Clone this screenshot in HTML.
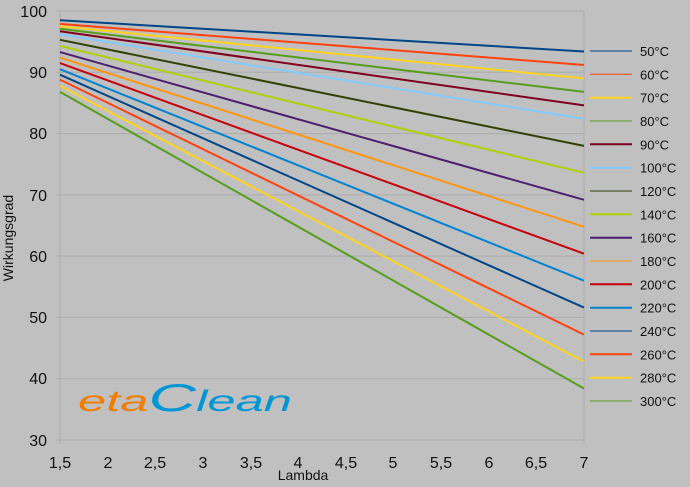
<!DOCTYPE html><html><head><style>body{margin:0;background:#c0c0c0}svg{display:block;font-family:"Liberation Sans",sans-serif}</style></head><body>
<svg width="690" height="487" viewBox="0 0 690 487">
<rect width="690" height="487" fill="#c0c0c0"/>
<g stroke="#acacac" stroke-width="1">
<line x1="56" y1="11" x2="584" y2="11"/><line x1="56" y1="72.3" x2="584" y2="72.3"/><line x1="56" y1="133.6" x2="584" y2="133.6"/><line x1="56" y1="194.9" x2="584" y2="194.9"/><line x1="56" y1="256.1" x2="584" y2="256.1"/><line x1="56" y1="317.4" x2="584" y2="317.4"/><line x1="56" y1="378.7" x2="584" y2="378.7"/><line x1="56" y1="440" x2="584" y2="440"/>
<line x1="60" y1="11" x2="60" y2="444"/><line x1="584" y1="11" x2="584" y2="444"/>
</g>
<g font-size="16" fill="#111" text-anchor="end">
<text x="47" y="17">100</text><text x="47" y="78">90</text><text x="47" y="139">80</text><text x="47" y="201">70</text><text x="47" y="262">60</text><text x="47" y="323">50</text><text x="47" y="384">40</text><text x="47" y="446">30</text>
</g>
<g font-size="16" fill="#111" text-anchor="middle">
<text x="60" y="468">1,5</text><text x="108" y="468">2</text><text x="155" y="468">2,5</text><text x="203" y="468">3</text><text x="251" y="468">3,5</text><text x="298" y="468">4</text><text x="346" y="468">4,5</text><text x="393" y="468">5</text><text x="441" y="468">5,5</text><text x="489" y="468">6</text><text x="536" y="468">6,5</text><text x="584" y="468">7</text>
</g>
<text x="303" y="480" font-size="14" text-anchor="middle" fill="#111">Lambda</text>
<text transform="translate(13,238) rotate(-90)" font-size="14" text-anchor="middle" fill="#111">Wirkungsgrad</text>
<text x="78" y="411" font-size="30" font-style="italic" fill="#f07d00" textLength="214" lengthAdjust="spacingAndGlyphs">eta<tspan fill="#0096d6" font-size="39">C</tspan><tspan fill="#0096d6">lean</tspan></text>
<g stroke-width="2" fill="none">
<line x1="60" y1="20.2" x2="584" y2="51.5" stroke="#004586"/>
<line x1="60" y1="23.9" x2="584" y2="65" stroke="#ff420e"/>
<line x1="60" y1="26.3" x2="584" y2="78.4" stroke="#ffd320"/>
<line x1="60" y1="28.8" x2="584" y2="91.9" stroke="#579d1c"/>
<line x1="60" y1="31.2" x2="584" y2="105.4" stroke="#7e0021"/>
<line x1="60" y1="34.3" x2="584" y2="118.9" stroke="#83caff"/>
<line x1="60" y1="39.8" x2="584" y2="145.9" stroke="#314004"/>
<line x1="60" y1="45.9" x2="584" y2="172.8" stroke="#aecf00"/>
<line x1="60" y1="52.1" x2="584" y2="199.8" stroke="#4b1f6f"/>
<line x1="60" y1="57.6" x2="584" y2="226.8" stroke="#ff950e"/>
<line x1="60" y1="63.1" x2="584" y2="253.7" stroke="#c5000b"/>
<line x1="60" y1="69.2" x2="584" y2="280.7" stroke="#0084d1"/>
<line x1="60" y1="74.7" x2="584" y2="307.6" stroke="#004586"/>
<line x1="60" y1="79.6" x2="584" y2="334.6" stroke="#ff420e"/>
<line x1="60" y1="85.8" x2="584" y2="361.6" stroke="#ffd320"/>
<line x1="60" y1="91.9" x2="584" y2="388.5" stroke="#579d1c"/>
</g>
<g font-size="13" fill="#111">
<line x1="590" x2="632" y1="51" y2="51" stroke="#004586"/><text x="640" y="56">50°C</text>
<line x1="590" x2="632" y1="74.3" y2="74.3" stroke="#ff420e"/><text x="640" y="79.3">60°C</text>
<line x1="590" x2="632" y1="97.7" y2="97.7" stroke="#ffd320" stroke-width="2"/><text x="640" y="102.7">70°C</text>
<line x1="590" x2="632" y1="121" y2="121" stroke="#579d1c"/><text x="640" y="126">80°C</text>
<line x1="590" x2="632" y1="144.3" y2="144.3" stroke="#7e0021" stroke-width="2"/><text x="640" y="149.3">90°C</text>
<line x1="590" x2="632" y1="167.7" y2="167.7" stroke="#83caff" stroke-width="2"/><text x="640" y="172.7">100°C</text>
<line x1="590" x2="632" y1="191" y2="191" stroke="#314004"/><text x="640" y="196">120°C</text>
<line x1="590" x2="632" y1="214.3" y2="214.3" stroke="#aecf00" stroke-width="2"/><text x="640" y="219.3">140°C</text>
<line x1="590" x2="632" y1="237.7" y2="237.7" stroke="#4b1f6f" stroke-width="2"/><text x="640" y="242.7">160°C</text>
<line x1="590" x2="632" y1="261" y2="261" stroke="#ff950e"/><text x="640" y="266">180°C</text>
<line x1="590" x2="632" y1="284.3" y2="284.3" stroke="#c5000b" stroke-width="2"/><text x="640" y="289.3">200°C</text>
<line x1="590" x2="632" y1="307.7" y2="307.7" stroke="#0084d1" stroke-width="2"/><text x="640" y="312.7">220°C</text>
<line x1="590" x2="632" y1="331" y2="331" stroke="#004586"/><text x="640" y="336">240°C</text>
<line x1="590" x2="632" y1="354.3" y2="354.3" stroke="#ff420e" stroke-width="2"/><text x="640" y="359.3">260°C</text>
<line x1="590" x2="632" y1="377.7" y2="377.7" stroke="#ffd320" stroke-width="2"/><text x="640" y="382.7">280°C</text>
<line x1="590" x2="632" y1="401" y2="401" stroke="#579d1c"/><text x="640" y="406">300°C</text>
</g>
</svg></body></html>
